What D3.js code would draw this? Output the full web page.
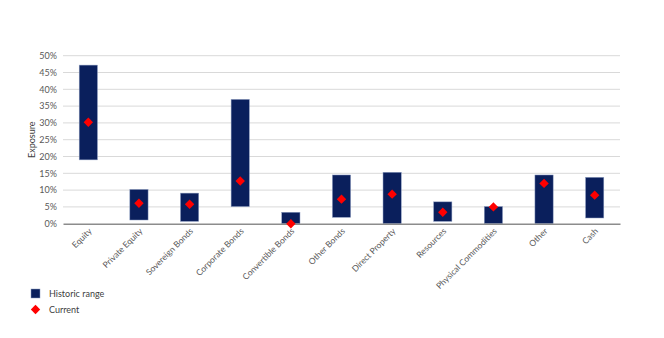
<!DOCTYPE html>
<html><head><meta charset="utf-8">
<script src="https://cdn.jsdelivr.net/npm/d3@7"></script>
<style>body{margin:0;background:#fff;font-family:Lato,sans-serif;}</style>
</head><body><svg id="c" width="664" height="338"></svg>
<script>
const categories = ["Equity","Private Equity","Sovereign Bonds","Corporate Bonds","Convertible Bonds","Other Bonds","Direct Property","Resources","Physical Commodities","Other","Cash"];
const rangeLow  = [0.19,0.011,0.007,0.051,0.0,0.019,0.0,0.007,0.0,0.0,0.017];
const rangeHigh = [0.472,0.102,0.091,0.370,0.034,0.145,0.153,0.065,0.051,0.145,0.138];
const current   = [0.302,0.061,0.058,0.127,0.0,0.073,0.088,0.034,0.050,0.120,0.085];
const yTicks = [0,0.05,0.10,0.15,0.20,0.25,0.30,0.35,0.40,0.45,0.50];

const svg = d3.select("#c");
const m = {left:63, right:44, top:55.7, bottom:114.3};
const W = 664, H = 338;
const x = d3.scaleBand().domain(categories).range([m.left, W - m.right]).paddingInner(0.64).paddingOuter(0.32);
const y = d3.scaleLinear().domain([0,0.5]).range([H - m.bottom, m.top]);

// gridlines
svg.append("g").selectAll("line").data(yTicks.slice(1)).join("line")
  .attr("x1", m.left).attr("x2", W - m.right)
  .attr("y1", d => y(d)).attr("y2", d => y(d))
  .attr("stroke", "#d9d9d9").attr("stroke-width", 1);

// y axis labels
const yAxis = d3.axisLeft(y).tickValues(yTicks).tickFormat(d3.format(".0%")).tickSize(0).tickPadding(6);
const gy = svg.append("g").attr("transform", `translate(${m.left},0)`).call(yAxis);
gy.select(".domain").remove();
gy.selectAll("text").attr("fill", "#595959").style("font-family","Lato, sans-serif").style("font-size","9px");

// bars
const data = categories.map((c,i) => ({c, lo: rangeLow[i], hi: rangeHigh[i], cur: current[i]}));
svg.append("g").selectAll("rect").data(data).join("rect")
  .attr("x", d => x(d.c)).attr("width", x.bandwidth())
  .attr("y", d => y(d.hi)).attr("height", d => y(d.lo) - y(d.hi))
  .attr("fill", "#0a1f5c").attr("stroke","#8c9cc0").attr("stroke-width",0.5);

// x axis
const xAxis = d3.axisBottom(x).tickSize(0).tickPadding(6);
const gx = svg.append("g").attr("transform", `translate(0,${y(0)})`).call(xAxis);
gx.select(".domain").attr("stroke", "#8c8c8c").attr("stroke-width", 1.5);
gx.selectAll("text").attr("fill", "#595959").style("font-family","Lato, sans-serif").style("font-size","8.5px")
  .attr("text-anchor","end").attr("dy","0.3em")
  .attr("transform","translate(-2,2) rotate(-45)");

// current markers
const diamond = d3.symbol().type(d3.symbolDiamond2 || d3.symbolSquare).size(50);
svg.append("g").selectAll("path").data(data).join("path")
  .attr("d", d3.symbol().type(d3.symbolSquare).size(44))
  .attr("transform", d => `translate(${x(d.c) + x.bandwidth()/2},${y(d.cur)}) rotate(45)`)
  .attr("fill", "#ff0000");

// y title
svg.append("text").attr("transform", `translate(35,${(y(0)+y(0.5))/2}) rotate(-90)`)
  .attr("text-anchor","middle").attr("fill","#404040").style("font-size","9px").text("Exposure");

// legend
const lg = svg.append("g");
lg.append("rect").attr("x",31).attr("y",289).attr("width",9).attr("height",9).attr("fill","#0a1f5c").attr("stroke","#8c9cc0").attr("stroke-width",0.5);
lg.append("text").attr("x",49).attr("y",296.5).attr("fill","#404040").style("font-size","9px").text("Historic range");
lg.append("path").attr("d", d3.symbol().type(d3.symbolSquare).size(44)).attr("transform","translate(35.5,309.5) rotate(45)").attr("fill","#ff0000");
lg.append("text").attr("x",49).attr("y",312.5).attr("fill","#404040").style("font-size","9px").text("Current");
</script>
</body></html>
